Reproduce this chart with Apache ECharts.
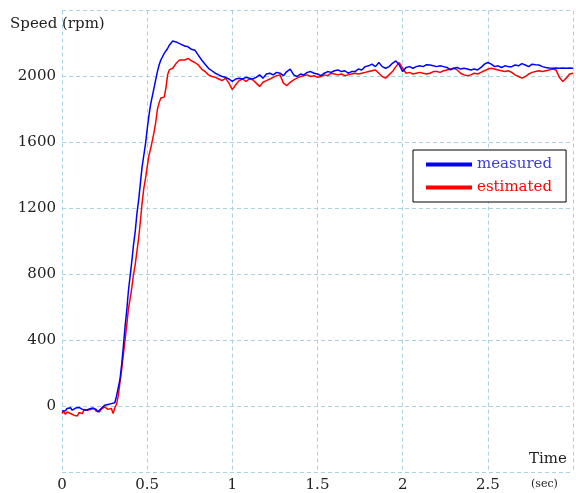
<!DOCTYPE html>
<html>
<head>
<meta charset="utf-8">
<script src="https://cdn.jsdelivr.net/npm/echarts@6/dist/echarts.min.js"></script>
<style>
html,body{margin:0;padding:0;background:#fff;}
#chart{width:576px;height:493px;}
</style>
</head>
<body>
<div id="chart"></div>
<script>
// Data: [time (sec), speed (rpm)]
var measured = [
[0,-30],[0.01,-20],[0.02,-28],[0.03,-15],[0.04,-22],[0.05,-10],[0.06,-25],[0.07,-18],[0.08,-12],[0.09,-20],
[0.10,-8],[0.11,-15],[0.12,-20],[0.13,-10],[0.14,-25],[0.15,-30],[0.16,-18],[0.17,-22],[0.18,-12],[0.19,-5],
[0.20,-20],[0.21,-35],[0.22,-25],[0.23,-15],[0.24,-5],[0.25,5],[0.26,0],[0.27,10],[0.28,5],[0.29,15],
[0.30,8],[0.31,20],[0.32,60],[0.33,110],[0.34,160],[0.35,250],[0.36,360],[0.37,480],[0.38,580],[0.39,700],
[0.40,790],[0.41,880],[0.42,980],[0.43,1060],[0.44,1170],[0.45,1250],[0.46,1350],[0.47,1450],[0.48,1520],[0.49,1590],
[0.50,1680],[0.51,1760],[0.52,1830],[0.53,1880],[0.54,1930],[0.55,1980],[0.56,2030],[0.57,2070],[0.58,2100],[0.59,2120],
[0.60,2140],[0.61,2150],[0.62,2170],[0.63,2190],[0.64,2200],[0.65,2215],[0.66,2215],[0.67,2210],[0.68,2215],[0.69,2200],
[0.70,2195],[0.72,2185],[0.74,2180],[0.76,2165],[0.78,2160],[0.80,2130],[0.82,2100],[0.84,2075],[0.86,2050],[0.88,2035],
[0.90,2020],[0.92,2010],[0.94,2000],[0.96,1995],[0.98,1985],[1.00,1970],[1.02,1985],[1.04,1990],[1.06,1985],[1.08,1995],
[1.10,1990],[1.12,1985],[1.14,1995],[1.16,2010],[1.18,1990],[1.20,2015],[1.22,2020],[1.24,2010],[1.26,2025],[1.28,2020],
[1.30,2005],[1.32,2030],[1.34,2045],[1.36,2010],[1.38,2000],[1.40,2015],[1.42,2010],[1.44,2025],[1.46,2030],[1.48,2020],
[1.50,2015],[1.52,2005],[1.54,2020],[1.56,2030],[1.58,2025],[1.60,2035],[1.62,2040],[1.64,2030],[1.66,2035],[1.68,2020],
[1.70,2030],[1.72,2030],[1.74,2045],[1.76,2040],[1.78,2060],[1.80,2065],[1.82,2075],[1.84,2060],[1.86,2085],[1.88,2060],
[1.90,2050],[1.92,2060],[1.94,2080],[1.96,2095],[1.98,2070],[2.00,2030],[2.02,2055],[2.04,2060],[2.06,2050],[2.08,2060],
[2.10,2065],[2.12,2060],[2.14,2072],[2.16,2070],[2.18,2065],[2.20,2060],[2.22,2065],[2.24,2060],[2.26,2055],[2.28,2040],
[2.30,2050],[2.32,2055],[2.34,2045],[2.36,2050],[2.38,2045],[2.40,2040],[2.42,2045],[2.44,2040],[2.46,2055],[2.48,2075],
[2.50,2085],[2.52,2075],[2.54,2060],[2.56,2065],[2.58,2055],[2.60,2065],[2.62,2060],[2.64,2060],[2.66,2070],[2.68,2065],
[2.70,2078],[2.72,2070],[2.74,2060],[2.76,2075],[2.78,2072],[2.80,2070],[2.82,2060],[2.84,2055],[2.86,2052],[2.88,2050],
[2.90,2052],[2.92,2050],[2.94,2052],[2.96,2050],[2.98,2052],[3.00,2050]
];
var estimated = [
[0,-45],[0.01,-30],[0.02,-50],[0.03,-35],[0.04,-25],[0.05,-45],[0.06,-40],[0.07,-55],[0.08,-50],[0.09,-60],
[0.10,-40],[0.11,-30],[0.12,-45],[0.13,-20],[0.14,-30],[0.15,-25],[0.16,-30],[0.17,-20],[0.18,-25],[0.19,-15],
[0.20,-30],[0.21,-40],[0.22,-35],[0.23,-20],[0.24,-15],[0.25,-5],[0.26,-10],[0.27,-20],[0.28,-10],[0.29,-15],
[0.30,-45],[0.31,-10],[0.32,10],[0.33,60],[0.34,140],[0.35,220],[0.36,310],[0.37,400],[0.38,490],[0.39,590],
[0.40,650],[0.41,720],[0.42,800],[0.43,860],[0.44,940],[0.45,1020],[0.46,1120],[0.47,1230],[0.48,1320],[0.49,1380],
[0.50,1450],[0.51,1520],[0.52,1560],[0.53,1610],[0.54,1660],[0.55,1720],[0.56,1800],[0.57,1840],[0.58,1870],[0.59,1880],
[0.60,1875],[0.61,1930],[0.62,2010],[0.63,2040],[0.64,2030],[0.65,2050],[0.66,2060],[0.67,2080],[0.68,2090],[0.69,2100],
[0.70,2095],[0.72,2100],[0.74,2110],[0.76,2095],[0.78,2085],[0.80,2070],[0.82,2045],[0.84,2030],[0.86,2010],[0.88,2000],
[0.90,1995],[0.92,1985],[0.94,1975],[0.96,1990],[0.98,1960],[1.00,1920],[1.02,1950],[1.04,1975],[1.06,1985],[1.08,1970],
[1.10,1985],[1.12,1980],[1.14,1960],[1.16,1940],[1.18,1965],[1.20,1975],[1.22,1985],[1.24,1995],[1.26,2005],[1.28,2010],
[1.30,1960],[1.32,1945],[1.34,1965],[1.36,1980],[1.38,1990],[1.40,2000],[1.42,2005],[1.44,2010],[1.46,2000],[1.48,2005],
[1.50,1995],[1.52,2000],[1.54,2010],[1.56,2005],[1.58,2020],[1.60,2015],[1.62,2010],[1.64,2015],[1.66,2005],[1.68,2010],
[1.70,2015],[1.72,2020],[1.74,2015],[1.76,2020],[1.78,2025],[1.80,2030],[1.82,2035],[1.84,2040],[1.86,2020],[1.88,2000],
[1.90,1990],[1.92,2010],[1.94,2030],[1.96,2060],[1.98,2085],[2.00,2050],[2.02,2020],[2.04,2025],[2.06,2015],[2.08,2020],
[2.10,2025],[2.12,2020],[2.14,2015],[2.16,2020],[2.18,2030],[2.20,2030],[2.22,2025],[2.24,2035],[2.26,2040],[2.28,2045],
[2.30,2050],[2.32,2040],[2.34,2020],[2.36,2010],[2.38,2005],[2.40,2010],[2.42,2020],[2.44,2015],[2.46,2025],[2.48,2035],
[2.50,2045],[2.52,2050],[2.54,2045],[2.56,2040],[2.58,2035],[2.60,2030],[2.62,2035],[2.64,2025],[2.66,2010],[2.68,2000],
[2.70,1990],[2.72,2000],[2.74,2015],[2.76,2025],[2.78,2030],[2.80,2035],[2.82,2030],[2.84,2035],[2.86,2040],[2.88,2045],
[2.90,2040],[2.92,1995],[2.94,1970],[2.96,1990],[2.98,2015],[3.00,2020]
];
var seriesNames = ['measured', 'estimated'];
var xTickLabels = ['0', '0.5', '1', '1.5', '2', '2.5'];
var yTickLabels = ['0', '400', '800', '1200', '1600', '2000'];
var yAxisTitle = 'Speed (rpm)';
var xAxisTitle = 'Time';
var xAxisUnit = '(sec)';

var FONT = 'DejaVu Serif';
var TXT = '#222';
var GRID = '#a9d3e0';

var chart = echarts.init(document.getElementById('chart'), null, {renderer: 'canvas'});
chart.setOption({
  animation: false,
  backgroundColor: '#fff',
  grid: {left: 62, right: 0, top: 10.6, bottom: 19.6, containLabel: false},
  xAxis: {
    type: 'value', min: 0, max: 3, interval: 0.5,
    axisLine: {show: false}, axisTick: {show: false},
    splitLine: {show: true, lineStyle: {color: GRID, type: [4, 3], width: 1}},
    axisLabel: {
      margin: 6, fontFamily: FONT, fontSize: 15, color: TXT,
      formatter: function (v) { var s = String(v); return xTickLabels.indexOf(s) >= 0 ? s : ''; }
    }
  },
  yAxis: {
    type: 'value', min: -400, max: 2400, interval: 400,
    axisLine: {show: false}, axisTick: {show: false},
    splitLine: {show: true, lineStyle: {color: GRID, type: [4, 3], width: 1}},
    axisLabel: {
      margin: 6, fontFamily: FONT, fontSize: 15, color: TXT,
      formatter: function (v) { var s = String(v); return yTickLabels.indexOf(s) >= 0 ? s : ''; }
    }
  },
  legend: {
    orient: 'vertical', left: 413, top: 150,
    backgroundColor: '#fff', borderColor: '#000', borderWidth: 1,
    padding: [7, 14, 7, 13],
    itemWidth: 46, itemHeight: 4, itemGap: 8,
    icon: 'rect',
    textStyle: {fontFamily: FONT, fontSize: 15, lineHeight: 15},
    data: [
      {name: seriesNames[0], textStyle: {color: '#3c3cd8'}},
      {name: seriesNames[1], textStyle: {color: '#ff0000'}}
    ]
  },
  graphic: [
    {type: 'text', left: 10, top: 17, style: {text: yAxisTitle, font: '15px "' + FONT + '"', fill: TXT}},
    {type: 'text', left: 529, top: 452, style: {text: xAxisTitle, font: '15px "' + FONT + '"', fill: TXT}},
    {type: 'text', left: 531, top: 479, style: {text: xAxisUnit, font: '11px "' + FONT + '"', fill: TXT}}
  ],
  series: [
    {name: seriesNames[1], type: 'line', data: estimated, showSymbol: false, z: 2,
     lineStyle: {color: '#ff0000', width: 1.5}, itemStyle: {color: '#ff0000'}},
    {name: seriesNames[0], type: 'line', data: measured, showSymbol: false, z: 3,
     lineStyle: {color: '#0000ff', width: 1.5}, itemStyle: {color: '#0000ff'}}
  ]
});
</script>
</body>
</html>
